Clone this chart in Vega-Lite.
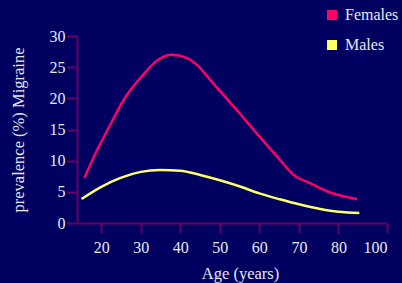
{
  "$schema": "https://vega.github.io/schema/vega-lite/v6.json",
  "width": 310,
  "height": 187,
  "autosize": {"type": "none"},
  "padding": {"left": 77, "top": 36, "right": 15, "bottom": 60},
  "background": "#000060",
  "data": {
    "values": [
      {"sex": "Females", "age": 15.7, "prev": 7.2},
      {"sex": "Females", "age": 18.4, "prev": 11.0},
      {"sex": "Females", "age": 21.8, "prev": 15.2},
      {"sex": "Females", "age": 26.0, "prev": 20.1},
      {"sex": "Females", "age": 30.2, "prev": 23.5},
      {"sex": "Females", "age": 34.4, "prev": 26.2},
      {"sex": "Females", "age": 37.8, "prev": 27.0},
      {"sex": "Females", "age": 41.6, "prev": 26.5},
      {"sex": "Females", "age": 44.5, "prev": 25.2},
      {"sex": "Females", "age": 47.5, "prev": 23.0},
      {"sex": "Females", "age": 50, "prev": 21.2},
      {"sex": "Females", "age": 55, "prev": 17.6},
      {"sex": "Females", "age": 60, "prev": 13.9},
      {"sex": "Females", "age": 65, "prev": 10.3},
      {"sex": "Females", "age": 68.5, "prev": 7.8},
      {"sex": "Females", "age": 72.8, "prev": 6.4},
      {"sex": "Females", "age": 77.1, "prev": 5.1},
      {"sex": "Females", "age": 81.3, "prev": 4.3},
      {"sex": "Females", "age": 84.7, "prev": 3.85},
      {"sex": "Males", "age": 15.0, "prev": 3.85},
      {"sex": "Males", "age": 20, "prev": 5.8},
      {"sex": "Males", "age": 24.7, "prev": 7.2},
      {"sex": "Males", "age": 30, "prev": 8.2},
      {"sex": "Males", "age": 34.9, "prev": 8.5},
      {"sex": "Males", "age": 40, "prev": 8.4},
      {"sex": "Males", "age": 45, "prev": 7.7},
      {"sex": "Males", "age": 50, "prev": 6.85},
      {"sex": "Males", "age": 55.1, "prev": 5.85},
      {"sex": "Males", "age": 60, "prev": 4.75},
      {"sex": "Males", "age": 65.2, "prev": 3.8},
      {"sex": "Males", "age": 70, "prev": 3.0},
      {"sex": "Males", "age": 75.4, "prev": 2.25},
      {"sex": "Males", "age": 80, "prev": 1.8},
      {"sex": "Males", "age": 85.3, "prev": 1.6}
    ]
  },
  "mark": {"type": "line", "interpolate": "monotone", "strokeWidth": 2.5},
  "encoding": {
    "x": {
      "field": "age", "type": "quantitative",
      "scale": {"domain": [13.85, 92.3], "nice": false, "zero": false},
      "axis": {
        "title": "Age (years)",
        "values": [20, 30, 40, 50, 60, 70, 80, 92.3],
        "labelExpr": "datum.value > 90 ? '100' : datum.label",
        "grid": false,
        "tickSize": 10,
        "labelPadding": 6,
        "titlePadding": 10,
        "titleX": 163
      }
    },
    "y": {
      "field": "prev", "type": "quantitative",
      "scale": {"domain": [0, 30], "nice": false},
      "axis": {
        "title": "prevalence (%) Migraine",
        "values": [0, 5, 10, 15, 20, 25, 30],
        "grid": false,
        "tickSize": 10,
        "labelPadding": 2,
        "titlePadding": 23
      }
    },
    "color": {
      "field": "sex", "type": "nominal",
      "scale": {"domain": ["Females", "Males"], "range": ["#FF0066", "#FFFF66"]},
      "legend": {
        "title": null,
        "orient": "none",
        "legendX": 247,
        "legendY": -29,
        "symbolType": "square",
        "symbolSize": 100,
        "symbolStrokeWidth": 0,
        "rowPadding": 14,
        "labelOffset": 5,
        "encode": {
          "symbols": {
            "update": {
              "fill": {"scale": "color", "field": "value"},
              "fillOpacity": {"value": 1}
            }
          }
        }
      }
    }
  },
  "config": {
    "view": {"stroke": null},
    "font": "Liberation Serif",
    "axis": {
      "domainColor": "#660066",
      "tickColor": "#660066",
      "domainWidth": 2,
      "tickWidth": 2,
      "labelColor": "#E8E8F0",
      "titleColor": "#E8E8F0",
      "labelFont": "Liberation Serif",
      "titleFont": "Liberation Serif",
      "labelFontSize": 16,
      "titleFontSize": 16.5,
      "titleFontWeight": "normal"
    },
    "legend": {
      "labelColor": "#E8E8F0",
      "labelFont": "Liberation Serif",
      "labelFontSize": 16
    }
  }
}
